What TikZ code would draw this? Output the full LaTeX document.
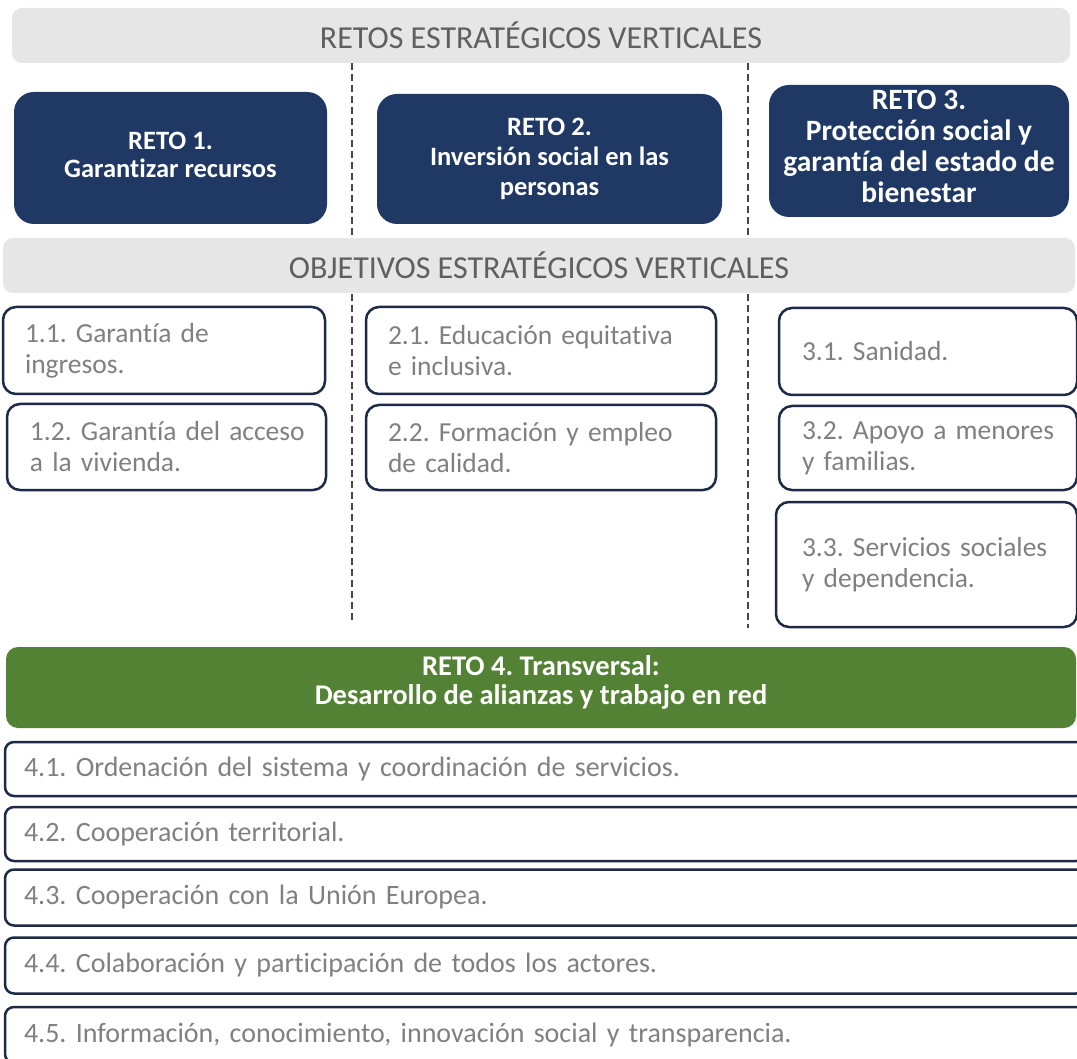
\documentclass[tikz,border=0pt]{standalone}
\usepackage{fontspec}
\setmainfont{Carlito}[Ligatures=CommonOff]
\frenchspacing
\hbadness=10000
\hfuzz=100pt
\definecolor{navy}{RGB}{31,56,100}
\definecolor{navyline}{RGB}{28,42,72}
\definecolor{hdrgray}{RGB}{231,230,230}
\definecolor{hdrtext}{RGB}{95,95,95}
\definecolor{gtext}{RGB}{128,128,128}
\definecolor{green4}{RGB}{84,130,53}
\definecolor{dashcol}{RGB}{70,70,70}
\tikzset{
  hdr/.style={fill=hdrgray, rounded corners=10pt, text=hdrtext, font=\fontsize{32}{34}\selectfont, inner sep=0pt},
  reto/.style={fill=navy, rounded corners=20pt, text=white, font=\bfseries\fontsize{26.5}{30}\selectfont, align=center, inner sep=0pt},
  retotext/.style={text=white, align=center, inner sep=0pt},
  obj/.style={draw=navyline, line width=2.5pt, fill=white, rounded corners=13pt, text=gtext, font=\fontsize{27.5}{31}\selectfont, align=left, inner ysep=0pt},
  trans/.style={fill=green4, rounded corners=12pt, inner sep=0pt},
  sub/.style={draw=navyline, line width=2.5pt, fill=white, rounded corners=9pt, text=gtext, font=\fontsize{28}{30}\selectfont, align=left, inner ysep=0pt},
  sep/.style={draw=dashcol, line width=1.6pt, dash pattern=on 7pt off 4pt}
}
\begin{document}
\begin{tikzpicture}[x=1pt,y=-1pt]
\useasboundingbox (0,0) rectangle (1077,1059);
\clip (0,0) rectangle (1077,1059);
% separators
\coordinate (s1a) at (352,63);
\coordinate (s1b) at (352,622);
\coordinate (s2a) at (748,63);
\coordinate (s2b) at (748,628);
\draw[sep] (s1a) -- (s1b);
\draw[sep] (s2a) -- (s2b);
% headers
\node[hdr, minimum width=1058pt, minimum height=55pt] (h1) at (541,35.5) {RETOS ESTRATÉGICOS VERTICALES};
\node[hdr, minimum width=1072pt, minimum height=55pt] (h2) at (539,265.5) {OBJETIVOS ESTRATÉGICOS VERTICALES};
% retos
\node[reto, minimum width=313pt, minimum height=132pt] (r1) at (170.5,158) {};
\node[retotext, font=\bfseries\fontsize{26.5}{27.5}\selectfont] (r1t) at ([yshift=3pt]r1.center) {RETO 1.\\Garantizar recursos};
\node[reto, minimum width=345pt, minimum height=130pt] (r2) at (549.5,159) {RETO 2.\\Inversión social en las\\personas};
\node[reto, minimum width=300pt, minimum height=132pt] (r3) at (919,151) {};
\node[retotext, font=\bfseries\fontsize{29.5}{31}\selectfont] (r3t) at ([yshift=5pt]r3.center) {RETO 3.\\Protección social y\\garantía del estado de\\bienestar};
% objetivos
\node[obj, inner xsep=22pt, text width=278pt, minimum height=87pt] (o11) at (164,350.5) {\mbox{1.1. Garantía de}\\\mbox{ingresos.}};
\node[obj, inner xsep=23pt, text width=273pt, minimum height=86pt] (o12) at (166.5,447) {\mbox{1.2. Garantía del acceso}\\\mbox{a la vivienda.}};
\node[obj, inner xsep=22pt, text width=306pt, minimum height=87pt] (o21) at (541,350.5) {\mbox{2.1. Educación equitativa}\\\mbox{e inclusiva.}};
\node[obj, inner xsep=22pt, text width=306pt, minimum height=85pt] (o22) at (541,447.5) {\mbox{2.2. Formación y empleo}\\\mbox{de calidad.}};
\node[obj, inner xsep=23pt, text width=252pt, minimum height=87pt] (o31) at (928,351.5) {\mbox{3.1. Sanidad.}};
\node[obj, inner xsep=23pt, text width=252pt, minimum height=84pt] (o32) at (928,448) {\mbox{3.2. Apoyo a menores}\\\mbox{y familias.}};
\node[obj, inner xsep=26pt, text width=249pt, minimum height=125pt] (o33) at (926.5,564.5) {\mbox{3.3. Servicios sociales}\\\mbox{y dependencia.}};
% reto 4
\node[trans, minimum width=1070pt, minimum height=81pt] (r4) at (541,687.5) {};
\node[retotext, font=\bfseries\fontsize{28.5}{28.5}\selectfont] (r4t) at ([yshift=5pt]r4.center) {RETO 4. Transversal:\\Desarrollo de alianzas y trabajo en red};
\node[sub, inner xsep=19pt, text width=1042pt, minimum height=54pt] (a1) at (545,769) {4.1. Ordenación del sistema y coordinación de servicios.};
\node[sub, inner xsep=19pt, text width=1042pt, minimum height=54pt] (a2) at (545,834) {4.2. Cooperación territorial.};
\node[sub, inner xsep=19pt, text width=1042pt, minimum height=56pt] (a3) at (545,897.5) {4.3. Cooperación con la Unión Europea.};
\node[sub, inner xsep=19pt, text width=1042pt, minimum height=56pt] (a4) at (545,965.5) {4.4. Colaboración y participación de todos los actores.};
\node[sub, inner xsep=19pt, text width=1042pt, minimum height=56pt] (a5) at (545,1035) {4.5. Información, conocimiento, innovación social y transparencia.};
\end{tikzpicture}
\end{document}
